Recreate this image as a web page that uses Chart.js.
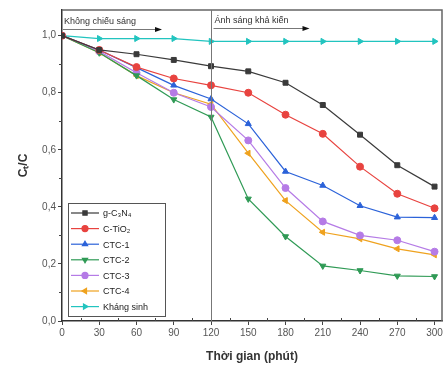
<!DOCTYPE html>
<html>
<head>
<meta charset="utf-8">
<script src="https://cdn.jsdelivr.net/npm/chart.js@4"></script>
<style>
  html, body { margin: 0; padding: 0; background: #fff; }
  #wrap { width: 447px; height: 374px; }
</style>
</head>
<body>
<div id="wrap"><canvas id="chart" width="447" height="374"></canvas></div>
<script>
// thời gian (phút)
const times = [0, 30, 60, 90, 120, 150, 180, 210, 240, 270, 300];
const xTicks = [0, 30, 60, 90, 120, 150, 180, 210, 240, 270, 300];
const yTicks = [0, 0.2, 0.4, 0.6, 0.8, 1.0];

// Ct/C cho từng mẫu
const gC3N4 = [1.0, 0.95, 0.935, 0.915, 0.893, 0.875, 0.835, 0.757, 0.653, 0.546, 0.471];
const cTiO2 = [1.0, 0.95, 0.89, 0.85, 0.826, 0.80, 0.723, 0.656, 0.541, 0.446, 0.395];
const ctc1 = [1.0, 0.95, 0.888, 0.826, 0.778, 0.691, 0.524, 0.475, 0.404, 0.364, 0.362];
const ctc2 = [1.0, 0.94, 0.86, 0.776, 0.715, 0.428, 0.296, 0.193, 0.177, 0.158, 0.156];
const ctc3 = [1.0, 0.945, 0.87, 0.80, 0.75, 0.633, 0.466, 0.349, 0.30, 0.283, 0.243];
const ctc4 = [1.0, 0.94, 0.86, 0.80, 0.76, 0.588, 0.422, 0.311, 0.288, 0.253, 0.232];
const khangSinh = [1.0, 0.99, 0.99, 0.99, 0.98, 0.98, 0.98, 0.98, 0.98, 0.98, 0.98];

function mkSet(label, data, color, style, rot) {
    return {
        label: label,
        data: data,
        borderColor: color,
        backgroundColor: color,
        borderWidth: 1.2,
        pointStyle: style,
        rotation: rot || 0,
        pointRadius: 3.5,
        pointBorderWidth: 1,
        tension: 0
    };
}

// Vạch chia phụ, khung, đường thẳng 120 phút, ghi chú và chú giải
const decor = {
    id: 'decor',
    afterDraw(chart) {
        const ctx = chart.ctx;
        const xs = chart.scales.x, ys = chart.scales.y;
        const a = chart.chartArea;
        ctx.save();
        // khung trên và phải
        ctx.strokeStyle = '#666';
        ctx.lineWidth = 1.5;
        ctx.beginPath();
        ctx.moveTo(a.left, a.top); ctx.lineTo(a.right, a.top); ctx.lineTo(a.right, a.bottom);
        ctx.stroke();
        // vạch phụ
        ctx.strokeStyle = '#444';
        ctx.lineWidth = 1;
        for (let v = 15; v < 306; v += 30) {
            const px = Math.round(xs.getPixelForValue(v)) + 0.5;
            ctx.beginPath(); ctx.moveTo(px, a.bottom); ctx.lineTo(px, a.bottom - 3); ctx.stroke();
        }
        for (let v = 0.1; v < 1.09; v += 0.2) {
            const py = Math.round(ys.getPixelForValue(v)) + 0.5;
            ctx.beginPath(); ctx.moveTo(a.left, py); ctx.lineTo(a.left - 3, py); ctx.stroke();
        }
        // đường chia vùng tại 120 phút
        const x120 = Math.round(xs.getPixelForValue(120)) + 0.5;
        ctx.strokeStyle = '#777';
        ctx.beginPath(); ctx.moveTo(x120, a.top); ctx.lineTo(x120, a.bottom); ctx.stroke();

        // ghi chú trên cùng
        ctx.font = '9px "Liberation Sans", Arial, sans-serif';
        ctx.fillStyle = '#333';
        ctx.textBaseline = 'alphabetic';
        ctx.fillText('Không chiếu sáng', a.left + 2, a.top + 14);
        ctx.fillText('Ánh sáng khả kiến', x120 + 3, a.top + 13);
        function arrow(x1, x2, y) {
            ctx.strokeStyle = '#777';
            ctx.beginPath(); ctx.moveTo(x1, y); ctx.lineTo(x2 - 6, y); ctx.stroke();
            ctx.fillStyle = '#111';
            ctx.beginPath(); ctx.moveTo(x2 - 7, y - 2.5); ctx.lineTo(x2, y); ctx.lineTo(x2 - 7, y + 2.5); ctx.closePath(); ctx.fill();
        }
        arrow(a.left + 1, a.left + 100, a.top + 19.5);
        arrow(x120 + 2, x120 + 98, a.top + 18.5);

        // chú giải
        const bx = a.left + 6, by = a.bottom - 118, bw = 97, bh = 113;
        ctx.fillStyle = '#fff';
        ctx.fillRect(bx, by, bw, bh);
        ctx.strokeStyle = '#555';
        ctx.lineWidth = 1;
        ctx.strokeRect(bx + 0.5, by + 0.5, bw, bh);
        ctx.font = '9px "Liberation Sans", Arial, sans-serif';
        ctx.textBaseline = 'middle';
        chart.data.datasets.forEach((ds, i) => {
            const y = by + 10 + i * 15.6;
            ctx.strokeStyle = ds.borderColor;
            ctx.lineWidth = 1.2;
            ctx.beginPath(); ctx.moveTo(bx + 3, y); ctx.lineTo(bx + 31, y); ctx.stroke();
            ctx.fillStyle = ds.backgroundColor;
            Chart.helpers.drawPoint(ctx, { pointStyle: ds.pointStyle, rotation: ds.rotation, radius: 3, borderWidth: 1 }, bx + 17, y);
            ctx.fillStyle = '#222';
            ctx.fillText(ds.label, bx + 35, y + 1);
        });
        ctx.restore();
    }
};

new Chart(document.getElementById('chart'), {
    type: 'line',
    data: {
        labels: times,
        datasets: [
            mkSet('g-C₃N₄', gC3N4, '#3a3a3a', 'rect'),
            mkSet('C-TiO₂', cTiO2, '#e8433f', 'circle'),
            mkSet('CTC-1', ctc1, '#2b62d9', 'triangle'),
            mkSet('CTC-2', ctc2, '#2f9a55', 'triangle', 180),
            mkSet('CTC-3', ctc3, '#b57be6', 'circle'),
            mkSet('CTC-4', ctc4, '#efa21e', 'triangle', -90),
            mkSet('Kháng sinh', khangSinh, '#22c4bf', 'triangle', 90)
        ]
    },
    options: {
        responsive: false,
        animation: false,
        layout: { padding: { top: 10, right: 0, left: 12, bottom: 6 } },
        plugins: { legend: { display: false }, tooltip: { enabled: false } },
        scales: {
            x: {
                type: 'linear',
                min: 0,
                max: 306,
                afterBuildTicks: (s) => { s.ticks = xTicks.map(v => ({ value: v })); },
                afterFit: (s) => { s.height = 47; },
                border: { display: true, color: '#333', width: 1.5 },
                grid: { drawOnChartArea: false, drawTicks: true, tickLength: 4, color: '#444' },
                ticks: {
                    color: '#555',
                    font: { size: 10, family: '"Liberation Sans", Arial, sans-serif' },
                    padding: 2,
                    maxRotation: 0
                },
                title: {
                    display: true,
                    text: 'Thời gian (phút)',
                    color: '#333',
                    font: { size: 12, weight: 'bold', family: '"Liberation Sans", Arial, sans-serif' },
                    padding: { top: 4 }
                }
            },
            y: {
                min: 0,
                max: 1.09,
                afterBuildTicks: (s) => { s.ticks = yTicks.map(v => ({ value: v })); },
                afterFit: (s) => { s.width = 50; },
                border: { display: true, color: '#333', width: 1.5 },
                grid: { drawOnChartArea: false, drawTicks: true, tickLength: 4, color: '#444' },
                ticks: {
                    color: '#555',
                    font: { size: 10, family: '"Liberation Sans", Arial, sans-serif' },
                    padding: 2,
                    callback: (v) => v.toFixed(1).replace('.', ',')
                },
                title: {
                    display: true,
                    text: 'Cₜ/C',
                    color: '#333',
                    font: { size: 12, weight: 'bold', family: '"Liberation Sans", Arial, sans-serif' },
                    padding: { bottom: 6 }
                }
            }
        }
    },
    plugins: [decor]
});
</script>
</body>
</html>
